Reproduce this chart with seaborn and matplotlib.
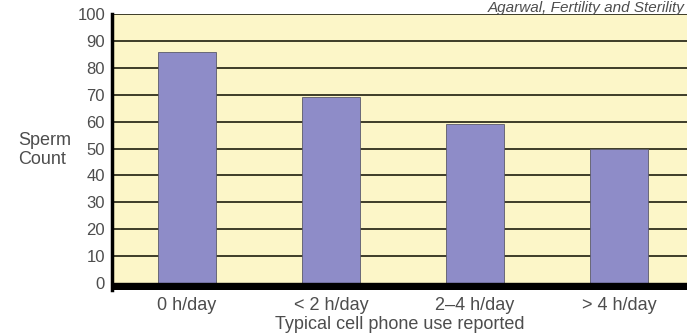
import matplotlib
matplotlib.use('Agg')
import matplotlib.pyplot as plt
import seaborn as sns
import pandas as pd

# Data
usage = ['0 h/day', '< 2 h/day', '2\u20134 h/day', '> 4 h/day']
sperm_count = [86, 69, 59, 50]
y_ticks = [0, 10, 20, 30, 40, 50, 60, 70, 80, 90, 100]

df = pd.DataFrame({'usage': usage, 'count': sperm_count})

sns.set_style('white')
plt.rcParams['font.family'] = ['Liberation Sans', 'DejaVu Sans']

txt_color = '#4d4d4d'

fig = plt.figure(figsize=(6.87, 3.35), dpi=100)
ax = fig.add_axes([112 / 687, 45 / 335, 582 / 687, 276 / 335])
ax.set_facecolor('#fcf6c8')

sns.barplot(data=df, x='usage', y='count', color='#8e8cc8', width=0.4,
            saturation=1, edgecolor='#5a5a6a', linewidth=0.6, ax=ax, zorder=3)

ax.set_xlim(-0.52, 3.52)
ax.set_ylim(-2.6, 100)
ax.axhspan(-2.6, 0, color='black', zorder=4)
ax.set_yticks(y_ticks)
for v in y_ticks[1:]:
    ax.axhline(v, color='#2e2e1c', lw=1.3, zorder=1)

for side in ['top', 'right', 'bottom']:
    ax.spines[side].set_visible(False)
ax.spines['left'].set_color('black')
ax.spines['left'].set_linewidth(2.5)
ax.spines['left'].set_zorder(5)

ax.tick_params(axis='y', length=2, width=1, color='black', pad=3,
               labelsize=12, labelcolor=txt_color)
ax.tick_params(axis='x', length=0, pad=5, labelsize=13, labelcolor=txt_color)

ax.set_ylabel('')
ax.set_xlabel('Typical cell phone use reported', fontsize=13, color=txt_color)
ax.xaxis.set_label_coords(0.495, -0.095)
ax.xaxis.label.set_va('top')

fig.text(18 / 687, 1 - 150 / 335, 'Sperm\nCount', fontsize=13, color=txt_color,
         ha='left', va='center', linespacing=1.2)
fig.text(685 / 687, 1 - 1 / 335, 'Agarwal, Fertility and Sterility', fontsize=11,
         color=txt_color, style='italic', ha='right', va='top')

fig.savefig('out.png', dpi=100)
